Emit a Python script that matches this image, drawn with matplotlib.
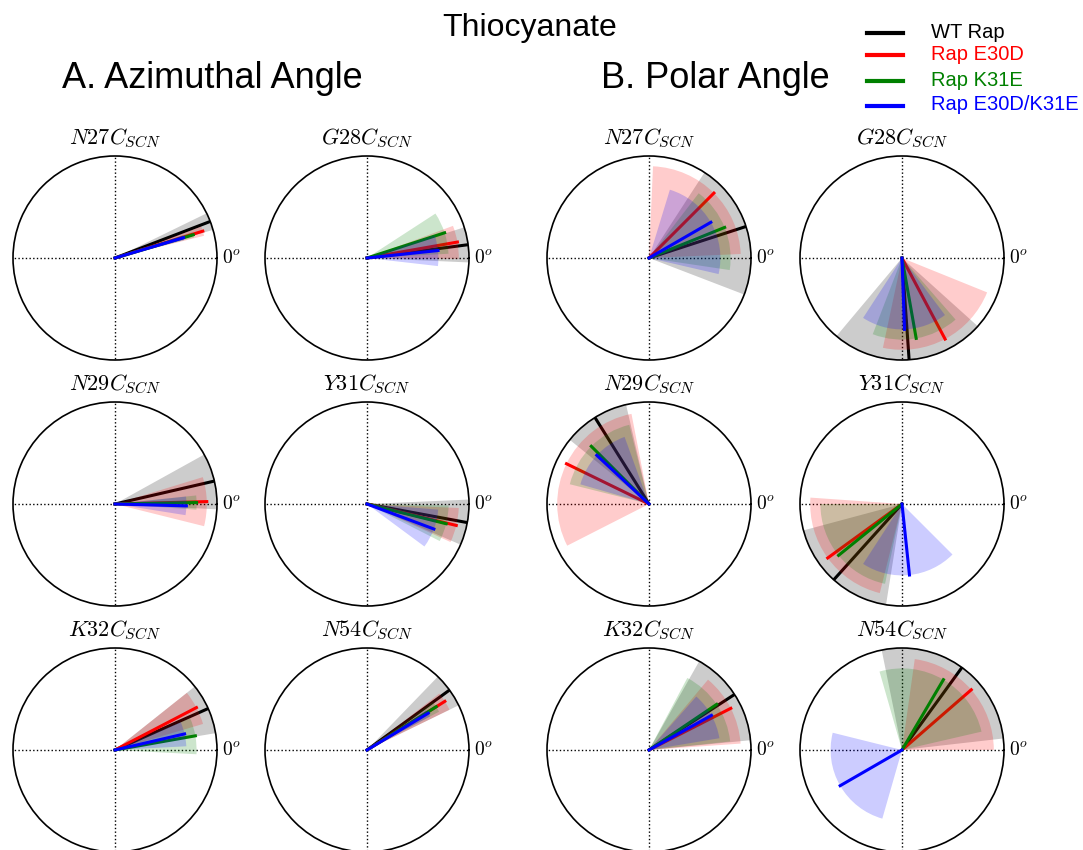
import numpy as np
import matplotlib
matplotlib.use('Agg')
import matplotlib.pyplot as plt

plt.rcParams['mathtext.fontset'] = 'cm'
plt.rcParams['font.family'] = ['Liberation Sans', 'DejaVu Sans']

#%% data (angles in degrees: mean and half-width of each wedge)

sites = ['N27', 'G28', 'N29', 'Y31', 'K32', 'N54']
series = ['WT Rap', 'Rap E30D', 'Rap K31E', 'Rap E30D/K31E']
colors = ['black', 'red', 'green', 'blue']
lengths = [1.0, 0.9, 0.8, 0.7]

# columns: WT, E30D, K31E, E30D/K31E
azim_mean = [[21, 17, 16.5, 16.5],
             [7.5, 10, 18, 6],
             [13, 1.5, 1, -1.5],
             [-10.5, -13.5, -14, -20.5],
             [24, 27.5, 10, 13],
             [36, 32, 32, 31]]
azim_sd = [[5, 3, 2, 2],
           [10, 10.5, 15, 12.5],
           [16, 15.5, 5, 7.5],
           [13, 11, 13, 16],
           [14.5, 11, 13, 10],
           [10, 6, 4, 3]]

polar_mean = [[18, 45, 22, 30],
              [-86, -62, -80, -88],
              [122, 154, 135, 137],
              [228, 216, 219, 276],
              [33, 27, 34, 29],
              [54, 41, 59.5, 210]]
polar_sd = [[39, 42.5, 30.5, 43],
            [44, 40, 31, 35],
            [19, 53, 31, 27],
            [33, 40, 39, 39],
            [27.5, 23, 28, 19.5],
            [47.5, 41, 46.5, 44]]

#%% figure

W, H = 1083, 850
fig = plt.figure(figsize=(W / 100, H / 100), dpi=100)

R = 102
col_x = [115, 367, 649, 902]
row_y = [258, 504, 750]


def draw_panel(cx, cy, site, means, sds):
    ax = fig.add_axes([(cx - R) / W, 1 - (cy + R) / H, 2 * R / W, 2 * R / H],
                      projection='polar')
    ax.set_ylim(0, 1)
    ax.grid(False)
    ax.set_xticks([])
    ax.set_yticks([])
    ax.spines['polar'].set_linewidth(1.2)
    for th in [0, 90, 180, 270]:
        ax.plot([np.radians(th)] * 2, [0, 1], ':', color='k', lw=1, zorder=1)
    # line first, then its wedge on top
    for m, s, c, r in zip(means, sds, colors, lengths):
        ax.plot([np.radians(m)] * 2, [0, r], color=c, lw=2.2, zorder=2)
        ax.bar(np.radians(m), r, width=np.radians(2 * s), bottom=0,
               color=c, alpha=0.2, lw=0, zorder=2)
    ax.text(1.025, 0.5, '$0^o$', transform=ax.transAxes, ha='left',
            va='center', fontsize=14)
    ax.text(0.5, 1 + 18 / (2 * R), '$%sC_{SCN}$' % site, transform=ax.transAxes,
            ha='center', va='center', fontsize=16)
    return ax


for i, site in enumerate(sites):
    row, col = i // 2, i % 2
    draw_panel(col_x[col], row_y[row], site, azim_mean[i], azim_sd[i])
    draw_panel(col_x[col + 2], row_y[row], site, polar_mean[i], polar_sd[i])

# headings
fig.text(530 / W, 1 - 28 / H, 'Thiocyanate', ha='center', va='center', fontsize=23)
fig.text(62 / W, 1 - 78 / H, 'A. Azimuthal Angle', ha='left', va='center', fontsize=26)
fig.text(601 / W, 1 - 78 / H, 'B. Polar Angle', ha='left', va='center', fontsize=26)

# legend drawn by hand
leg_y = [33, 55, 81, 106]
for name, c, y in zip(series, colors, leg_y):
    fig.add_artist(plt.Line2D([867 / W, 903 / W], [1 - y / H] * 2, color=c, lw=3))
    fig.text(931 / W, 1 - (y - 1) / H, name, color=c, ha='left', va='center',
             fontsize=14.5)

fig.savefig('out.png', dpi=100)
